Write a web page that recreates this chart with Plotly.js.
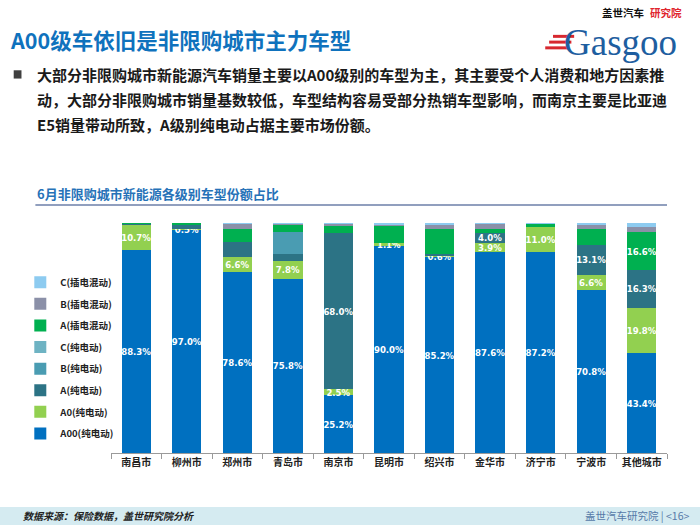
<!DOCTYPE html>
<html>
<head>
<meta charset="utf-8">
<script src="https://cdn.plot.ly/plotly-3.0.1.min.js"></script>
<style>
html,body{margin:0;padding:0;background:#fff;}
#chart{width:700px;height:525px;}
</style>
</head>
<body>
<div id="chart"></div>
<script>
// ---- data ----
const cities = ['南昌市','柳州市','郑州市','青岛市','南京市','昆明市','绍兴市','金华市','济宁市','宁波市','其他城市'];
const seriesNames = ['A00(纯电动)','A0(纯电动)','A(纯电动)','B(纯电动)','C(纯电动)','A(插电混动)','B(插电混动)','C(插电混动)'];
const a00Ev  = [88.3, 97.0, 78.6, 75.8, 25.2, 90.0, 85.2, 87.6, 87.2, 70.8, 43.4];
const a0Ev   = [10.7,  0.5,  6.6,  7.8,  2.5,  1.1,  0.6,  3.9, 11.0,  6.6, 19.8];
const aEv    = [ 0.5,  1.5,  6.4,  3.0, 68.0,  0.3,  0.8,  4.0,  0.0, 13.1, 16.3];
const bEv    = [ 0.0,  0.0,  0.0,  9.4,  0.0,  0.0,  0.0,  0.0,  0.0,  0.0,  0.0];
const cEv    = [ 0.0,  0.0,  0.0,  0.0,  0.0,  0.0,  0.0,  0.0,  0.0,  0.0,  0.0];
const aPhev  = [ 0.5,  0.8,  5.9,  3.0,  3.0,  7.2, 11.0,  2.0,  1.3,  7.1, 16.6];
const bPhev  = [ 0.0,  0.0,  2.0,  0.5,  0.8,  0.4,  1.5,  2.0,  0.0,  1.4,  2.1];
const cPhev  = [ 0.0,  0.2,  0.5,  0.5,  0.5,  1.0,  0.9,  0.5,  0.5,  1.0,  1.8];
// which values carry a printed label
const a00Labels  = [true,true,true,true,true,true,true,true,true,true,true];
const a0Labels   = [true,true,true,true,true,true,true,true,true,true,true];
const aEvLabels  = [false,false,false,false,true,false,false,true,false,true,true];
const aPhevLabels= [false,false,false,false,false,false,false,false,false,false,true];

const colors = ['#0070C0','#92D050','#2C7385','#4A9CB2','#6EB3C3','#00B050','#8B90A8','#8DCBF0'];
const values = [a00Ev,a0Ev,aEv,bEv,cEv,aPhev,bPhev,cPhev];
const labelFlags = [a00Labels,a0Labels,aEvLabels,null,null,aPhevLabels,null,null];

const traces = values.map((v,i)=>({
  type:'bar',
  name:seriesNames[i],
  x:cities,
  y:v,
  legendgroup:'g'+i,
  legendrank: 100 - i,
  marker:{color:colors[i], line:{width:0}},
  text: v.map((val,j)=> (labelFlags[i] && labelFlags[i][j]) ? val.toFixed(1)+'%' : ''),
  textposition:'inside',
  insidetextanchor:'middle',
  textangle:0,
  constraintext:'none',
  textfont:{family:'DejaVu Sans Condensed, DejaVu Sans, sans-serif', size:9.5, color:'#ffffff', weight:'bold'},
  cliponaxis:false,
  hoverinfo:'none'
}));

const txt = (x,y,text,size,color,opts={}) => Object.assign({
  xref:'paper', yref:'paper', x:x, y:y, text:text, showarrow:false,
  xanchor:'left', yanchor:'middle',
  font:{family:'Noto Sans CJK SC, sans-serif', size:size, color:color, weight:'bold'}
}, opts);

const layout = {
  width:700, height:525,
  margin:{l:111, r:33, t:223, b:72, pad:0, autoexpand:false},
  paper_bgcolor:'#ffffff', plot_bgcolor:'rgba(0,0,0,0)',
  barmode:'stack',
  bargap:0.42,
  uniformtext:{mode:'show', minsize:9.5},
  showlegend:true,
  legend:{
    xref:'container', yref:'container', x:0.029, y:0.49, xanchor:'left', yanchor:'top',
    traceorder:'grouped', tracegroupgap:2.6,
    font:{family:'Noto Sans CJK SC, sans-serif', size:9.5, color:'#222', weight:'bold'},
    itemwidth:30, bgcolor:'rgba(0,0,0,0)'
  },
  xaxis:{
    type:'category', showgrid:false, zeroline:false,
    showline:true, linecolor:'#9a9a9a', linewidth:1,
    ticks:'outside', tickson:'boundaries', ticklen:5, tickcolor:'#9a9a9a',
    tickangle:0,
    tickfont:{family:'Noto Sans CJK SC, sans-serif', size:10, color:'#222', weight:'bold'},
    fixedrange:true
  },
  yaxis:{range:[0,100], visible:false, fixedrange:true},
  shapes:[
    // chart title underline
    {type:'line', xref:'paper', yref:'paper', x0:-0.136, x1:1.0, y0:1.078, y1:1.078, line:{color:'#6C7FA8', width:1.5}},
    // footer band
    {type:'rect', xref:'paper', yref:'paper', x0:-0.2, x1:1.06, y0:-0.235, y1:-0.313, fillcolor:'#D5EBF1', line:{width:0}, layer:'below'},
    // bullet
    {type:'rect', xref:'paper', yref:'paper', x0:-0.175, x1:-0.161, y0:1.628, y1:1.664, fillcolor:'#404040', line:{width:0}},
    // logo red stripes
    {type:'rect', xref:'paper', yref:'paper', x0:0.795, x1:0.833, y0:1.805, y1:1.818, fillcolor:'#D7282F', line:{width:0}},
    {type:'rect', xref:'paper', yref:'paper', x0:0.788, x1:0.828, y0:1.780, y1:1.793, fillcolor:'#D7282F', line:{width:0}},
    {type:'rect', xref:'paper', yref:'paper', x0:0.781, x1:0.823, y0:1.755, y1:1.768, fillcolor:'#D7282F', line:{width:0}}
  ],
  annotations:[
    txt(-0.186, 1.796, 'A00级车依旧是非限购城市主力车型', 21.5, '#0F72BD'),
    txt(-0.137, 1.645, '大部分非限购城市新能源汽车销量主要以A00级别的车型为主，其主要受个人消费和地方因素推', 15, '#1a1a1a'),
    txt(-0.137, 1.537, '动，大部分非限购城市销量基数较低，车型结构容易受部分热销车型影响，而南京主要是比亚迪', 15, '#1a1a1a'),
    txt(-0.137, 1.430, 'E5销量带动所致，A级别纯电动占据主要市场份额。', 15, '#1a1a1a'),
    txt(-0.136, 1.128, '6月非限购城市新能源各级别车型份额占比', 13, '#2672B8'),
    // logo
    txt(0.880, 1.915, '盖世汽车', 10.5, '#111'),
    txt(0.966, 1.915, '研究院', 10.5, '#E0262E'),
    txt(0.812, 1.785, 'Gasgoo', 37, '#1E5EA0', {font:{family:'Liberation Serif, serif', size:37, color:'#1E5EA0'}}),
    // footer
    txt(-0.161, -0.272, '数据来源：保险数据，盖世研究院分析', 10, '#222', {font:{family:'Noto Sans CJK SC, sans-serif', size:10, color:'#222', weight:'bold', style:'italic'}}),
    txt(1.045, -0.272, '盖世汽车研究院 | <16>', 10.5, '#5579A8', {xanchor:'right', font:{family:'Noto Sans CJK SC, sans-serif', size:10.5, color:'#5579A8'}})
  ]
};

Plotly.newPlot('chart', traces, layout, {displayModeBar:false, staticPlot:true});
</script>
</body>
</html>
